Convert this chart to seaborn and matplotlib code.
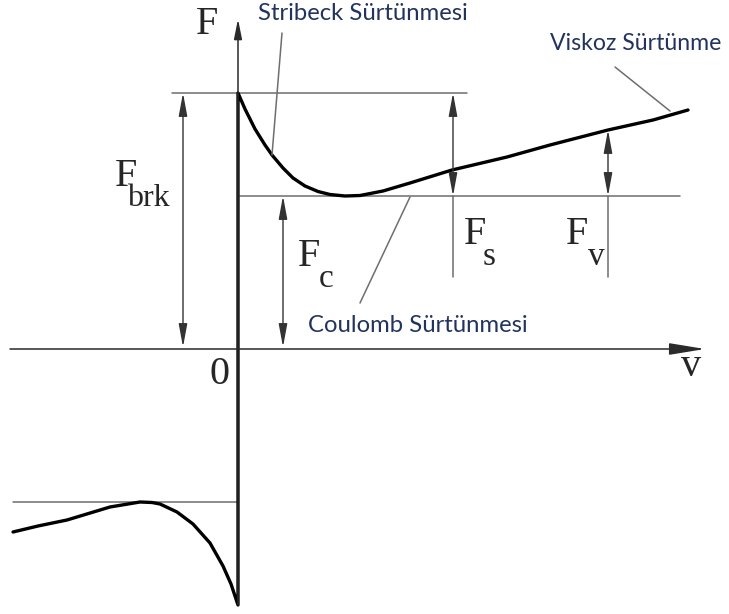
import matplotlib
matplotlib.use("Agg")
import matplotlib.pyplot as plt
import seaborn as sns
import pandas as pd

# Friction force vs. velocity (Stribeck curve), arbitrary units
v_neg = [-225, -200, -171, -128, -110, -98, -86, -78, -61, -45, -28, -15, -7, 0]
F_neg = [-183, -177, -171, -158, -155, -153, -153.5, -155, -163, -175, -194, -217, -235, -256]
v_pos = [0, 7, 17, 27, 34, 45, 55, 67, 80, 92, 107, 122, 145, 172, 214, 269, 312, 370, 415, 450]
F_pos = [256, 240, 220, 204, 194, 181, 171, 163, 157.5, 154.5, 153, 153.5, 158, 166, 179, 192, 204, 219, 229, 239]

F_brk = 256      # breakaway force
F_c = 153        # Coulomb level
F_at_vlabel = 219  # curve value where the F_v dimension is drawn

labels_blue = ["Stribeck Sürtünmesi", "Viskoz Sürtünme", "Coulomb Sürtünmesi"]

sns.set_style("white")
plt.rcParams["font.family"] = ["Liberation Serif", "DejaVu Serif"]

fig = plt.figure(figsize=(7.29, 6.14), dpi=100)
ax = fig.add_axes([0, 0, 1, 1])
ax.set_xlim(-238, 729 - 238)
ax.set_ylim(349 - 614, 349)
ax.axis("off")

thin = dict(color="#6e6e6e", lw=1.1)
dark = "#2a2a2a"

# coordinate axes with arrows
ax.annotate("", xy=(467, 0), xytext=(-228, 0),
            arrowprops=dict(arrowstyle="-|>,head_length=1.1,head_width=0.18",
                            color=dark, lw=1.1, shrinkA=0, shrinkB=0, mutation_scale=20))
ax.annotate("", xy=(0, 330), xytext=(0, -256),
            arrowprops=dict(arrowstyle="-|>,head_length=0.6,head_width=0.12",
                            color=dark, lw=1.1, shrinkA=0, shrinkB=0, mutation_scale=20))

# reference levels
ax.plot([-66, 229], [F_brk, F_brk], **thin)
ax.plot([2, 442], [F_c, F_c], **thin)
ax.plot([-225, 0], [-F_c, -F_c], **thin)

# friction curve (negative branch, jump at zero, positive branch)
curve = pd.DataFrame({"v": v_neg + v_pos, "F": F_neg + F_pos})
sns.lineplot(data=curve, x="v", y="F", sort=False, estimator=None,
             color="black", linewidth=2.4, ax=ax)


def dim_arrow(x, y0, y1):
    ax.annotate("", xy=(x, y1), xytext=(x, y0),
                arrowprops=dict(arrowstyle="<|-|>,head_length=0.7,head_width=0.13",
                                color="#333333", lw=1.0, shrinkA=0, shrinkB=0,
                                mutation_scale=20))


# dimension arrows
dim_arrow(-55, 2, F_brk)
dim_arrow(45, 2, F_c)
dim_arrow(215, F_c, F_brk)
ax.plot([215, 215], [72, F_c], **thin)
dim_arrow(370, F_c, F_at_vlabel)
ax.plot([370, 370], [72, F_c], **thin)

# leader lines for the annotations
ax.plot([44, 34], [316, 194], **thin)
ax.plot([377, 432], [282, 238], **thin)
ax.plot([122, 172], [46, 152], **thin)

# serif symbols
big = 29
sub = 24
ax.text(-31, 324, "F", fontsize=big, ha="center", va="center")
ax.text(-18, -26, "0", fontsize=big, ha="center", va="center")
ax.text(453, -18, "v", fontsize=big, ha="center", va="center")

ax.text(-112, 172, "F", fontsize=big, ha="center", va="center")
ax.text(-90, 150, "brk", fontsize=23, ha="center", va="center")
ax.text(71, 92, "F", fontsize=big, ha="center", va="center")
ax.text(88, 70, "c", fontsize=sub, ha="center", va="center")
ax.text(237, 114, "F", fontsize=big, ha="center", va="center")
ax.text(251, 92, "s", fontsize=sub, ha="center", va="center")
ax.text(339, 114, "F", fontsize=big, ha="center", va="center")
ax.text(358, 92, "v", fontsize=sub, ha="center", va="center")

# annotation texts
blue = "#22345e"
sans = ["Lato", "DejaVu Sans"]
ax.text(20, 335, labels_blue[0], fontsize=17.2, color=blue, family=sans, ha="left", va="center")
ax.text(312, 306, labels_blue[1], fontsize=16.7, color=blue, family=sans, ha="left", va="center")
ax.text(70, 24, labels_blue[2], fontsize=17.2, color=blue, family=sans, ha="left", va="center")

fig.savefig("out.png", dpi=100, facecolor="white")
